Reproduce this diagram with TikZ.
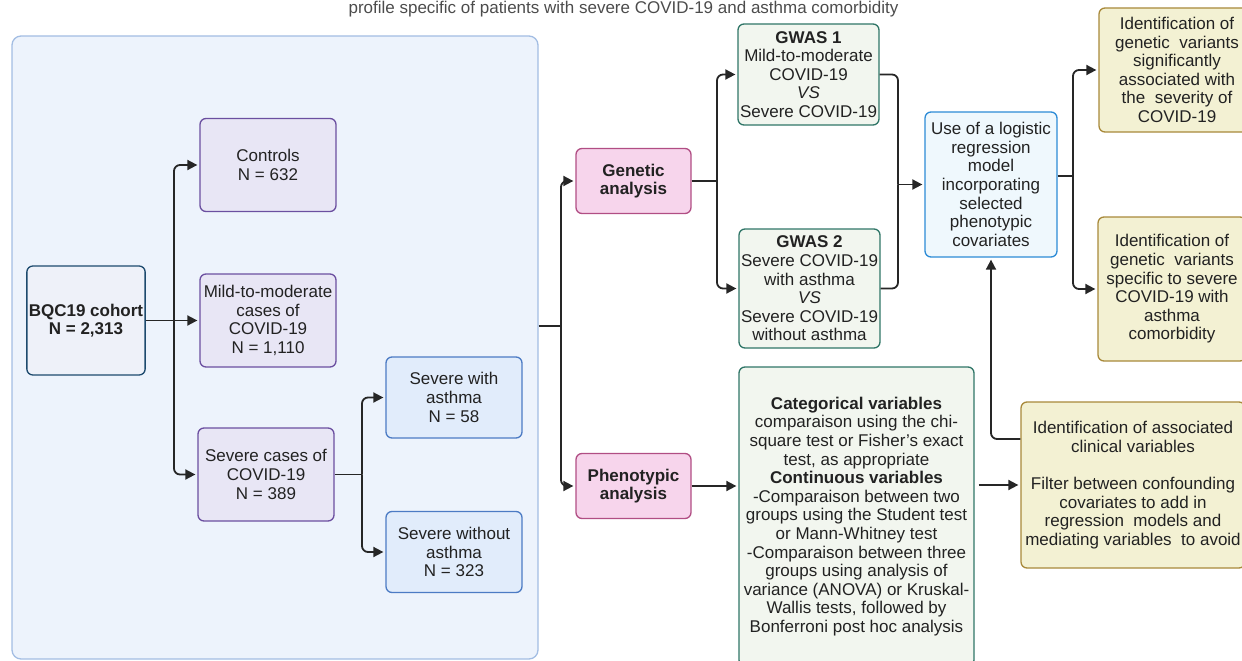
\documentclass[tikz,border=0pt]{standalone}
\usepackage{fontspec}
\setmainfont{Liberation Sans}
\usetikzlibrary{arrows.meta}
\definecolor{colTexto}{HTML}{222222}
\definecolor{colLinea}{HTML}{262626}
\definecolor{fondoF}{HTML}{EDF3FC}
\definecolor{fondoB}{HTML}{A3BDE3}
\definecolor{cohorteF}{HTML}{EEF1F9}
\definecolor{cohorteB}{HTML}{1D4A6E}
\definecolor{moradoF}{HTML}{E8E6F5}
\definecolor{moradoB}{HTML}{6B4FA0}
\definecolor{azulF}{HTML}{E1ECFB}
\definecolor{azulB}{HTML}{4C7BC4}
\definecolor{rosaF}{HTML}{F7D5EC}
\definecolor{rosaB}{HTML}{B14E84}
\definecolor{verdeF}{HTML}{F2F6EF}
\definecolor{verdeB}{HTML}{2F7567}
\definecolor{celesteF}{HTML}{EFF8FD}
\definecolor{celesteB}{HTML}{2C8BD6}
\definecolor{amarilloF}{HTML}{F3F1D3}
\definecolor{amarilloB}{HTML}{A8893A}
\begin{document}
\begin{tikzpicture}[x=1pt,y=-1pt]
		% formatos
		\tikzstyle{caja} = [draw, rounded corners=6pt, line width=1.3pt, align=center, text=colTexto, inner sep=2pt, font=\fontsize{17}{18.6}\selectfont]
		\tikzstyle{fondo} = [caja, fill=fondoF, draw=fondoB, rounded corners=9pt]
		\tikzstyle{cohorte} = [caja, fill=cohorteF, draw=cohorteB]
		\tikzstyle{morado} = [caja, fill=moradoF, draw=moradoB, minimum width=136pt, minimum height=93pt]
		\tikzstyle{azul} = [caja, fill=azulF, draw=azulB, minimum width=136pt, minimum height=81pt]
		\tikzstyle{rosa} = [caja, fill=rosaF, draw=rosaB, minimum width=115pt, minimum height=65pt]
		\tikzstyle{verde} = [caja, fill=verdeF, draw=verdeB]
		\tikzstyle{celeste} = [caja, fill=celesteF, draw=celesteB]
		\tikzstyle{amarillo} = [caja, fill=amarilloF, draw=amarilloB]
		\tikzstyle{conector} = [line width=1.8pt, draw=colLinea, rounded corners=6pt]
		\tikzstyle{flecha} = [conector, -{Triangle[length=10pt,width=10pt]}, shorten >=2pt]
		\useasboundingbox (0,0) rectangle (1242,661);
		% nodos
		\node [text=black!70, anchor=base, font=\fontsize{17}{18.6}\selectfont] (titulo) at (623.5,14)
{profile specific of patients with severe COVID-19 and asthma comorbidity};
		\node [fondo, minimum width=526pt, minimum height=623pt] (grupo) at (275,347.5) {};
		\node [cohorte, minimum width=114pt, minimum height=109pt] (bqc) at (86,320.5)
{\textbf{BQC19 cohort}\\\textbf{N = 2,313}};
		\node [morado] (ctrl) at (268,165) {Controls\\N = 632};
		\node [morado] (leve) at (268,320.5) {Mild-to-moderate\\cases of\\COVID-19\\N = 1,110};
		\node [morado] (grave) at (266,474.5) {Severe cases of\\COVID-19\\N = 389};
		\node [azul] (conasma) at (454,397.5) {Severe with\\asthma\\N = 58};
		\node [azul] (sinasma) at (454,552) {Severe without\\asthma\\N = 323};
		\node [rosa] (gen) at (633.5,181) {\textbf{Genetic}\\\textbf{analysis}};
		\node [rosa] (fen) at (633.5,486) {\textbf{Phenotypic}\\\textbf{analysis}};
		\node [verde, minimum width=137pt, minimum height=101pt] (gwas1) at (808.5,74.5)
{\textbf{GWAS 1}\\Mild-to-moderate\\COVID-19\\\textit{VS}\\Severe COVID-19};
		\node [verde, minimum width=137pt, minimum height=119pt] (gwas2) at (809.5,288.5)
{\textbf{GWAS 2}\\Severe COVID-19\\with asthma\\\textit{VS}\\Severe COVID-19\\without asthma};
		\node [celeste, minimum width=132pt, minimum height=145pt] (logit) at (991,184.5)
{Use of a logistic\\regression\\model\\incorporating\\selected\\phenotypic\\covariates};
		\node [amarillo, minimum width=156pt, minimum height=124pt] (id1) at (1177,70)
{Identification of\\genetic~ variants\\significantly\\associated with\\the~ severity of\\COVID-19};
		\node [amarillo, minimum width=148pt, minimum height=144pt] (id2) at (1172,289)
{Identification of\\genetic~ variants\\specific to severe\\COVID-19 with\\asthma\\comorbidity};
		\node [verde, minimum width=235pt, minimum height=299pt] (cat) at (856.5,516.5)
{\textbf{Categorical variables}\\comparaison using the chi-\\square test or Fisher’s exact\\test, as appropriate\\
\textbf{Continuous variables}\\-Comparaison between two\\groups using the Student test\\or Mann-Whitney test\\
-Comparaison between three\\groups using analysis of\\variance (ANOVA) or Kruskal-\\Wallis tests, followed by\\Bonferroni post hoc analysis};
		\node [amarillo, minimum width=224pt, minimum height=166pt] (asoc) at (1133,485)
{Identification of associated\\clinical variables\\[18.6pt]Filter between confounding\\covariates to add in\\regression~ models and\\mediating variables~ to avoid};
		% puntos de rama
		\coordinate (r1) at (174,320.5);
		\coordinate (r2) at (362,474.5);
		\coordinate (rama) at (561,326);
		\coordinate (r3) at (717,181);
		\coordinate (r4) at (898,184.5);
		\coordinate (r5) at (1073,176);
		% relaciones
		\draw [flecha] (bqc.east) -- (leve.west);
		\draw [flecha] (r1) |- (ctrl.west);
		\draw [flecha] (r1) |- (grave.west);
		\draw [conector] (grave.east) -- (r2);
		\draw [flecha] (r2) |- (conasma.west);
		\draw [flecha] (r2) |- (sinasma.west);
		\draw [conector] (grupo.east |- rama) -- (rama);
		\draw [flecha] (rama) |- (gen.west);
		\draw [flecha] (rama) |- (fen.west);
		\draw [conector] (gen.east) -- (r3);
		\draw [flecha] (r3) |- (gwas1.west);
		\draw [flecha] (r3) |- (gwas2.west);
		\draw [conector] (gwas1.east) -| (r4);
		\draw [conector] (gwas2.east) -| (r4);
		\draw [flecha] (r4) -- (logit.west);
		\draw [conector] (logit.east |- r5) -- (r5);
		\draw [flecha] (r5) |- (id1.west);
		\draw [flecha] (r5) |- (id2.west);
		\draw [flecha] (fen.east) -- (fen.east -| cat.west);
		\draw [flecha] ([xshift=4pt]asoc.west -| cat.east) -- (asoc.west);
		\draw [flecha] ([yshift=46pt]asoc.west) -| (logit.south);
	\end{tikzpicture}
\end{document}
